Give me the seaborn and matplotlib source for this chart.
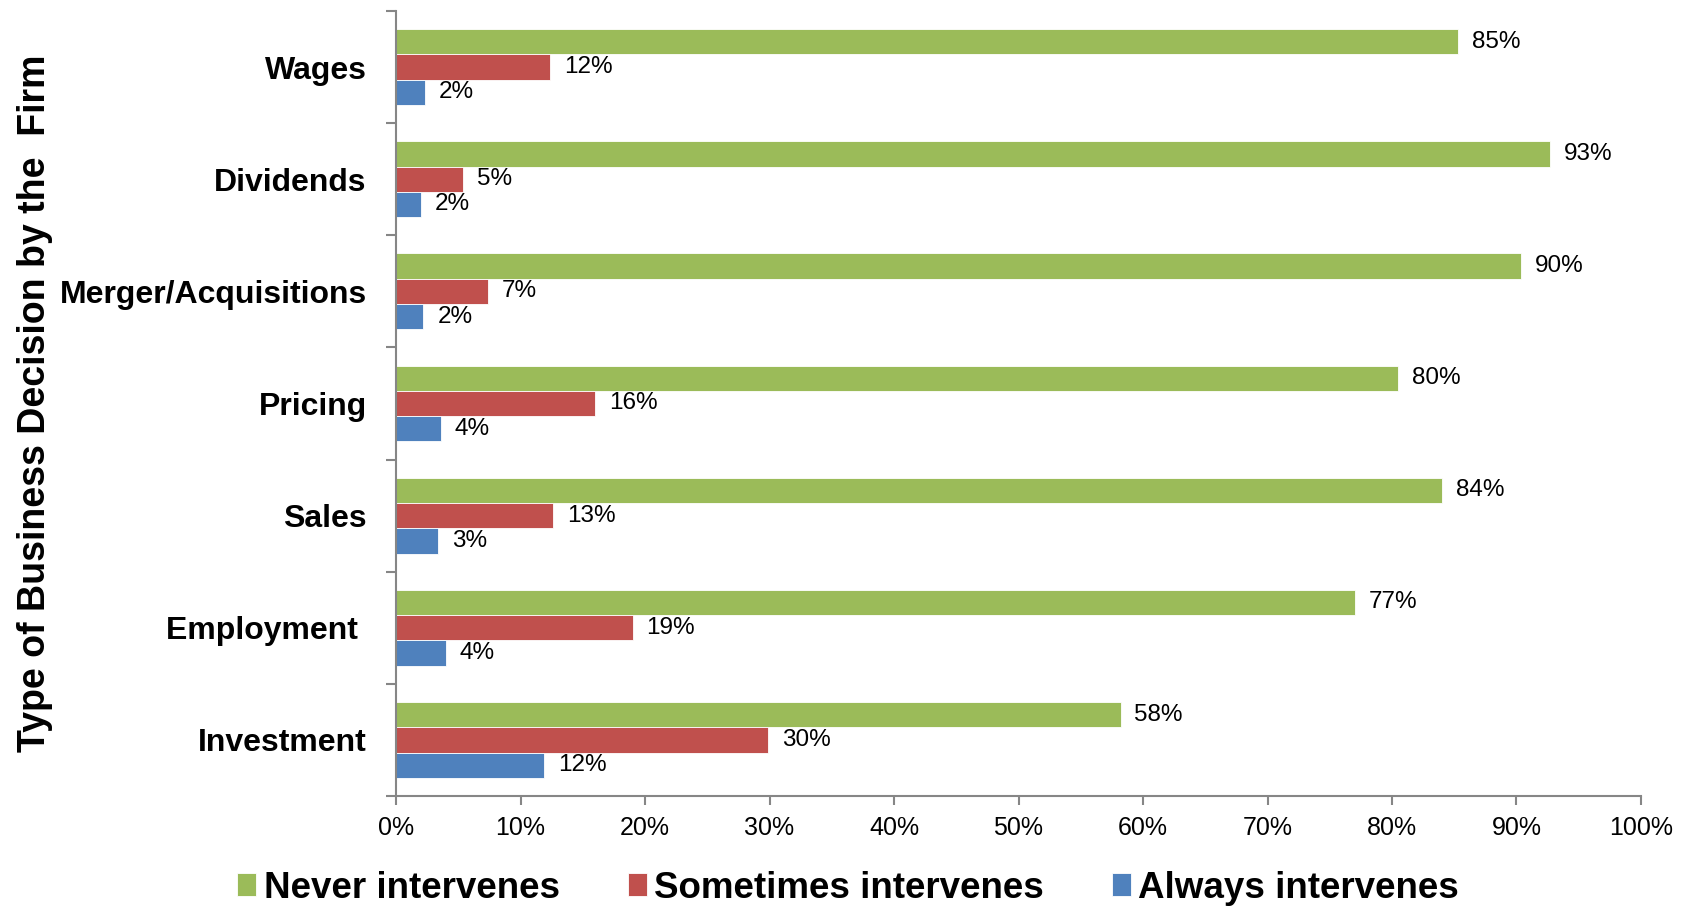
import matplotlib
matplotlib.use("Agg")
import matplotlib.pyplot as plt
import pandas as pd
import seaborn as sns

# Data (percent of firms)
decisions = ["Wages", "Dividends", "Merger/Acquisitions", "Pricing", "Sales",
             "Employment ", "Investment"]
never = [85.3, 92.7, 90.4, 80.5, 84.0, 77.0, 58.2]
sometimes = [12.4, 5.4, 7.4, 16.0, 12.6, 19.0, 29.9]
always = [2.3, 2.0, 2.2, 3.6, 3.4, 4.0, 11.9]
series = ["Never intervenes", "Sometimes intervenes", "Always intervenes"]
colors = ["#9BBB59", "#C0504D", "#4F81BD"]
x_ticks = list(range(0, 101, 10))

rows = []
for name, vals in zip(series, [never, sometimes, always]):
    for d, v in zip(decisions, vals):
        rows.append({"decision": d, "value": v, "response": name})
df = pd.DataFrame(rows)

sns.set_style("white")
plt.rcParams["font.family"] = ["Liberation Sans", "DejaVu Sans"]
plt.rcParams["text.color"] = "black"
plt.rcParams["axes.labelcolor"] = "black"

fig = plt.figure(figsize=(16.86, 9.07), dpi=100)
ax = fig.add_axes([0.2349, 0.1224, 0.7384, 0.8655])

sns.barplot(data=df, y="decision", x="value", hue="response", orient="h",
            order=decisions, hue_order=series, palette=colors, saturation=1,
            width=0.676, edgecolor="white", linewidth=0.6, ax=ax)

# Data labels
for cont in ax.containers:
    ax.bar_label(cont, labels=[f"{b.get_width():.0f}%" for b in cont],
                 padding=10, fontsize=17.5, color="black")

ax.set_xlim(0, 100)
ax.set_xticks(x_ticks)
ax.set_xticklabels([f"{t}%" for t in x_ticks], fontsize=18)
ax.set_ylim(len(decisions) - 0.5, -0.5)
ax.set_yticks(range(len(decisions)))
ax.set_yticklabels(decisions, fontsize=23, fontweight="bold")
ax.set_yticks([i - 0.5 for i in range(len(decisions) + 1)], minor=True)

ax.tick_params(axis="y", which="major", length=0, pad=21, labelcolor="black")
ax.tick_params(axis="y", which="minor", length=7.5, width=1.5, color="#868686",
               direction="out", left=True)
ax.tick_params(axis="x", length=6.5, width=1.5, color="#868686",
               direction="out", bottom=True, pad=8, labelcolor="black")

for s in ["top", "right"]:
    ax.spines[s].set_visible(False)
for s in ["left", "bottom"]:
    ax.spines[s].set_color("#868686")
    ax.spines[s].set_linewidth(1.5)

ax.set_xlabel("")
ax.set_ylabel("Type of Business Decision by the  Firm", fontsize=27,
              fontweight="bold", color="black")
ax.yaxis.set_label_coords(-0.2752, 0.5)

sns.move_legend(ax, "lower center", bbox_to_anchor=(0.503, -0.035),
                bbox_transform=fig.transFigure, ncol=3, frameon=False,
                title=None, fontsize=26.5, handlelength=0.52, handleheight=0.58,
                handletextpad=0.2, columnspacing=1.84)
for t in ax.get_legend().get_texts():
    t.set_fontweight("bold")
    t.set_color("black")

fig.savefig("out.png", dpi=100)
